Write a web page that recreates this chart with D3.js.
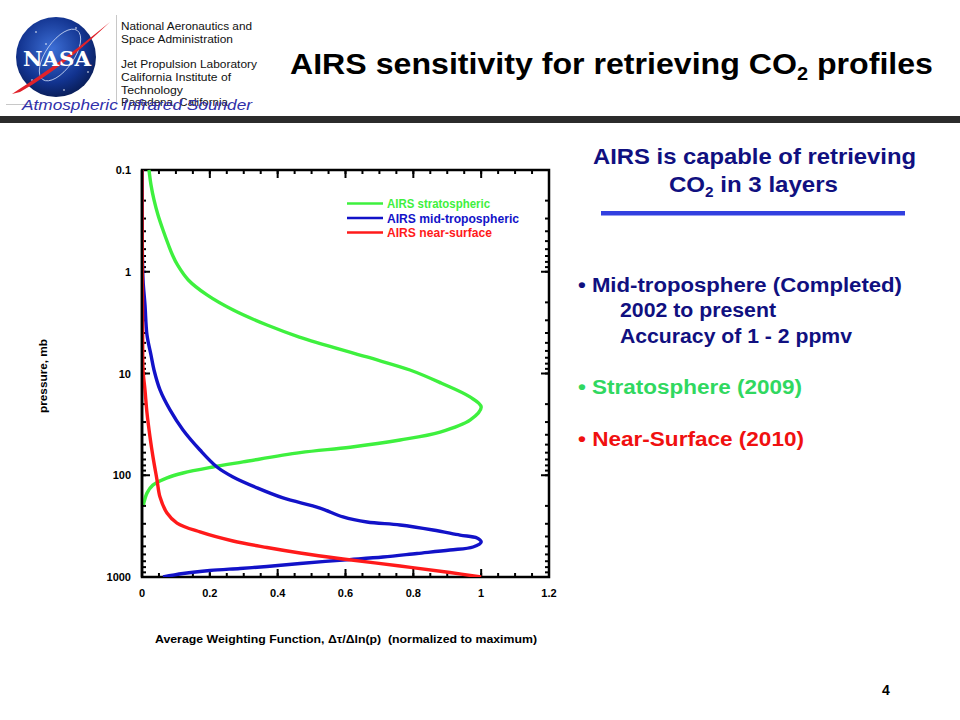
<!DOCTYPE html>
<html>
<head>
<meta charset="utf-8">
<script src="https://cdnjs.cloudflare.com/ajax/libs/d3/7.8.5/d3.min.js"></script>
<style>
  body { margin: 0; background: #fff; }
  svg { display: block; font-family: "Liberation Sans", Arial, sans-serif; }
</style>
</head>
<body>
<svg id="slide" width="960" height="720"></svg>
<script>
// weighting function curves: [normalized weight, pressure mb]
var stratospheric = [
  [0.0206, 0.1], [0.0265, 0.14], [0.0354, 0.197], [0.0472, 0.277], [0.0619, 0.389],
  [0.0781, 0.546], [0.0899, 0.684], [0.1047, 0.858], [0.1365, 1.205], [0.1916, 1.69],
  [0.269, 2.38], [0.3686, 3.34], [0.464, 4.38], [0.663, 6.88], [0.79, 9.24],
  [0.8816, 12.4], [0.967, 17], [1.0, 21.3], [0.968, 28.6], [0.879, 37.6], [0.761, 45],
  [0.614, 53], [0.466, 60], [0.298, 74], [0.209, 83], [0.121, 95], [0.074, 106],
  [0.032, 125], [0.015, 149], [0.004, 196]
];
var midTropospheric = [
  [0, 0.1], [0.001, 0.61], [0.003, 1.2], [0.0088, 2.12], [0.0147, 4.19], [0.0265, 6.58],
  [0.0354, 9.24], [0.0531, 14.5], [0.0826, 22.8], [0.1209, 35.9], [0.171, 56.5],
  [0.2211, 83], [0.2683, 104], [0.339, 133], [0.4157, 167], [0.5248, 210],
  [0.5926, 257], [0.6634, 288], [0.7607, 308], [0.858, 345], [0.9376, 387],
  [0.9877, 414], [1.0, 453], [0.976, 507], [0.908, 543], [0.811, 587], [0.7106, 636],
  [0.5926, 681], [0.466, 736], [0.3686, 788], [0.289, 824], [0.2005, 863],
  [0.121, 924], [0.062, 1000]
];
var nearSurface = [
  [0, 0.1], [0.001, 1], [0.002, 5], [0.003, 9.24], [0.0088, 14.5], [0.0147, 24.4],
  [0.0236, 42], [0.0324, 66], [0.0442, 111], [0.0531, 164], [0.0737, 235],
  [0.1032, 295], [0.171, 361], [0.2683, 443], [0.3686, 513], [0.466, 581],
  [0.5926, 665], [0.7607, 780], [0.908, 904], [1.0, 1000]
];
var seriesNames = ['AIRS stratospheric', 'AIRS mid-tropospheric', 'AIRS near-surface'];
var seriesColors = ['#3ef03e', '#1212c8', '#ff1a1a'];
var xTicks = [0, 0.2, 0.4, 0.6, 0.8, 1, 1.2];
var yTicks = [0.1, 1, 10, 100, 1000];

var svg = d3.select('#slide');

// fixed-width text helper (slide text is wider than Arial at the same height)
function txt(sel, x, y, size, len, str) {
  var t = sel.append('text').attr('x', x).attr('y', y).attr('font-size', size);
  if (len) t.attr('textLength', len).attr('lengthAdjust', 'spacingAndGlyphs');
  if (str !== undefined) t.text(str);
  return t;
}

// ---------- header ----------
function drawHeader() {
  var defs = svg.append('defs');
  var grad = defs.append('radialGradient').attr('id', 'globe')
    .attr('cx', '45%').attr('cy', '40%').attr('r', '60%');
  grad.append('stop').attr('offset', '0%').attr('stop-color', '#3d6fd6');
  grad.append('stop').attr('offset', '70%').attr('stop-color', '#12338f');
  grad.append('stop').attr('offset', '100%').attr('stop-color', '#0a1f5c');

  var logo = svg.append('g');
  logo.append('circle').attr('cx', 56).attr('cy', 57).attr('r', 40).attr('fill', 'url(#globe)');
  logo.append('ellipse').attr('cx', 60).attr('cy', 55).attr('rx', 30).attr('ry', 14)
    .attr('transform', 'rotate(-55 60 55)')
    .attr('fill', 'none').attr('stroke', '#c9d6f2').attr('stroke-width', 0.8);
  [[36, 32], [76, 28], [88, 72], [32, 80], [64, 90], [46, 44], [82, 46]].forEach(function(s) {
    logo.append('circle').attr('cx', s[0]).attr('cy', s[1]).attr('r', 0.8).attr('fill', '#fff');
  });
  logo.append('path')
    .attr('d', 'M12,94 C40,76 70,55 110,22 C80,50 55,72 20,92 Z')
    .attr('fill', '#e0222a');
  logo.append('text').attr('x', 57).attr('y', 66).attr('text-anchor', 'middle')
    .attr('font-family', '"DejaVu Serif", serif').attr('font-weight', 'bold')
    .attr('font-size', 20).attr('fill', '#fff').attr('textLength', 68)
    .attr('lengthAdjust', 'spacingAndGlyphs').text('NASA');

  svg.append('line').attr('x1', 116.5).attr('x2', 116.5).attr('y1', 15).attr('y2', 102)
    .attr('stroke', '#c8c8c8').attr('stroke-width', 1);
  svg.append('line').attr('x1', 6).attr('x2', 40).attr('y1', 104.5).attr('y2', 104.5)
    .attr('stroke', '#c8c8c8').attr('stroke-width', 1);

  var lab = ['National Aeronautics and', 'Space Administration', '', 'Jet Propulsion Laboratory',
             'California Institute of', 'Technology', 'Pasadena, California'];
  var labW = [131, 112, 0, 136, 110, 62, 107];
  lab.forEach(function(t, i) {
    if (!t) return;
    txt(svg, 121, 30 + i * 12.7, 10, labW[i], t).attr('fill', '#111');
  });
  txt(svg, 22, 110, 15, 230, 'Atmospheric Infrared Sounder')
    .attr('font-style', 'italic').attr('fill', '#3030aa');

  svg.append('rect').attr('x', 0).attr('y', 116).attr('width', 960).attr('height', 7)
    .attr('fill', '#2b2b2b');

  var title = txt(svg, 290, 74, 29, 643).attr('font-weight', 'bold').attr('fill', '#000');
  title.append('tspan').text('AIRS sensitivity for retrieving CO');
  title.append('tspan').attr('font-size', 18).attr('dy', 6).text('2');
  title.append('tspan').attr('dy', -6).text(' profiles');
}

// ---------- chart ----------
function drawChart() {
  var left = 142, right = 549, top = 170, bottom = 577;
  var x = d3.scaleLinear().domain([0, 1.2]).range([left, right]);
  var y = d3.scaleLog().domain([0.1, 1000]).range([top, bottom]);

  var g = svg.append('g').attr('font-weight', 'bold').attr('font-size', 11);

  var xMinor = d3.range(0, 1.2001, 0.05);
  var yMinor = y.ticks();

  function tickLines(sel, vals, isX, len, pos, dir) {
    sel.selectAll(null).data(vals).enter().append('line')
      .attr('x1', function(d) { return isX ? x(d) : pos; })
      .attr('x2', function(d) { return isX ? x(d) : pos + dir * len; })
      .attr('y1', function(d) { return isX ? pos : y(d); })
      .attr('y2', function(d) { return isX ? pos + dir * len : y(d); })
      .attr('stroke', '#000').attr('stroke-width', 2);
  }
  tickLines(g, xMinor, true, 4, bottom, -1);
  tickLines(g, xTicks, true, 8, bottom, -1);
  tickLines(g, xMinor, true, 4, top, 1);
  tickLines(g, xTicks, true, 8, top, 1);
  tickLines(g, yMinor, false, 4, left, 1);
  tickLines(g, yTicks, false, 8, left, 1);
  tickLines(g, yMinor, false, 4, right, -1);
  tickLines(g, yTicks, false, 8, right, -1);

  g.append('rect').attr('x', left).attr('y', top)
    .attr('width', right - left).attr('height', bottom - top)
    .attr('fill', 'none').attr('stroke', '#000').attr('stroke-width', 2.5);

  g.selectAll('.xl').data(xTicks).enter().append('text')
    .attr('x', function(d) { return x(d); }).attr('y', 597)
    .attr('text-anchor', 'middle').text(function(d) { return d3.format('')(d); });
  g.selectAll('.yl').data(yTicks).enter().append('text')
    .attr('x', 131).attr('y', function(d) { return y(d) + 4; })
    .attr('text-anchor', 'end').text(function(d) { return d; });

  g.append('text').attr('transform', 'translate(47,376) rotate(-90)')
    .attr('text-anchor', 'middle').attr('font-size', 11)
    .attr('textLength', 74).attr('lengthAdjust', 'spacingAndGlyphs').text('pressure, mb');
  txt(g, 155, 643, 11, 382,
    'Average Weighting Function, \u0394\u03c4/\u0394ln(p)\u00a0\u00a0(normalized to maximum)');

  var line = d3.line()
    .x(function(d) { return x(d[0]); })
    .y(function(d) { return y(d[1]); })
    .curve(d3.curveCatmullRom.alpha(0.5));

  var clip = svg.append('clipPath').attr('id', 'plotclip');
  clip.append('rect').attr('x', left).attr('y', top - 2)
    .attr('width', right - left).attr('height', bottom - top + 2);

  var lines = svg.append('g').attr('clip-path', 'url(#plotclip)');
  [stratospheric, midTropospheric, nearSurface].forEach(function(s, i) {
    lines.append('path').datum(s).attr('d', line)
      .attr('fill', 'none').attr('stroke', seriesColors[i])
      .attr('stroke-width', 3.4).attr('stroke-linejoin', 'round');
  });
  // left axis line drawn on top of near-zero curves
  svg.append('line').attr('x1', left).attr('x2', left).attr('y1', top).attr('y2', bottom)
    .attr('stroke', '#000').attr('stroke-width', 2.5);

  var leg = svg.append('g').attr('font-weight', 'bold');
  var legW = [103, 132, 105];
  seriesNames.forEach(function(n, i) {
    var ly = 203.5 + i * 14.5;
    leg.append('line').attr('x1', 347).attr('x2', 383).attr('y1', ly).attr('y2', ly)
      .attr('stroke', seriesColors[i]).attr('stroke-width', 2.6);
    txt(leg, 387, ly + 4.5, 12, legW[i], n).attr('fill', seriesColors[i]);
  });
}

// ---------- right column ----------
function drawNotes() {
  var navy = '#101080';
  var t = svg.append('g').attr('font-weight', 'bold');
  txt(t, 593, 164, 22, 323, 'AIRS is capable of retrieving').attr('fill', navy);
  var l2 = txt(t, 669, 192, 22, 169).attr('fill', navy);
  l2.append('tspan').text('CO');
  l2.append('tspan').attr('font-size', 14).attr('dy', 5).text('2');
  l2.append('tspan').attr('dy', -5).text(' in 3 layers');
  t.append('rect').attr('x', 601).attr('y', 211).attr('width', 304).attr('height', 4.5)
    .attr('fill', '#3240e0');

  var notes = [
    { x: 578, y: 292, w: 324, text: '\u2022 Mid-troposphere (Completed)', color: navy },
    { x: 620, y: 317, w: 156, text: '2002 to present', color: navy },
    { x: 620, y: 343, w: 232, text: 'Accuracy of 1 - 2 ppmv', color: navy },
    { x: 578, y: 394, w: 224, text: '\u2022 Stratosphere (2009)', color: '#30d860' },
    { x: 578, y: 446, w: 226, text: '\u2022 Near-Surface (2010)', color: '#f01010' }
  ];
  notes.forEach(function(n) {
    txt(t, n.x, n.y, 20, n.w, n.text).attr('fill', n.color);
  });

  t.append('text').attr('x', 886).attr('y', 695).attr('text-anchor', 'middle')
    .attr('font-size', 14).attr('fill', '#000').text('4');
}

drawHeader();
drawChart();
drawNotes();
</script>
</body>
</html>
